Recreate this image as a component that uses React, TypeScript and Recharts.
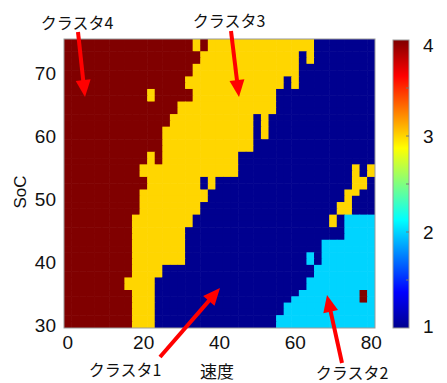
import { ScatterChart, Scatter, XAxis, YAxis } from 'recharts';

// speed (x) of each column, SoC (y) of each row
const SPEED = [0, 2, 4, 6, 8, 10, 12, 14, 16, 18, 20, 22, 24, 26, 28, 30, 32, 34, 36, 38, 40,
  42, 44, 46, 48, 50, 52, 54, 56, 58, 60, 62, 64, 66, 68, 70, 72, 74, 76, 78, 80];
const SOC = [75, 74, 73, 72, 71, 70, 69, 68, 67, 66, 65, 64, 63, 62, 61, 60, 59, 58, 57, 56, 55,
  54, 53, 52, 51, 50, 49, 48, 47, 46, 45, 44, 43, 42, 41, 40, 39, 38, 37, 36, 35, 34, 33, 32, 31, 30];

// cluster id per cell, one string per SoC row (top = 75), groups of 10 columns
const CLUSTER_ROWS = [
  '4444444444 4444444343 3333333333 3331111111 1',
  '4444444444 4444444343 3333333333 3331111111 1',
  '4444444444 4444444433 3333333333 3131111111 1',
  '4444444444 4444444433 3333333333 3131111111 1',
  '4444444444 4444444333 3333333333 3111111111 1',
  '4444444444 4444444333 3333333333 3111111111 1',
  '4444444444 4444443333 3333333331 3111111111 1',
  '4444444444 4444443333 3333333331 3111111111 1',
  '4444444444 4344444333 3333333311 1111111111 1',
  '4444444444 4344444333 3333333311 1111111111 1',
  '4444444444 4444433333 3333333311 1111111111 1',
  '4444444444 4444433333 3333333311 1111111111 1',
  '4444444444 4444333333 3333313111 1111111111 1',
  '4444444444 4444333333 3333313111 1111111111 1',
  '4444444444 4443333333 3333313111 1111111111 1',
  '4444444444 4443333333 3333313111 1111111111 1',
  '4444444444 4443333333 3333311111 1111111111 1',
  '4444444444 4443333333 3333311111 1111111111 1',
  '4444444444 4343333333 3331111111 1111111111 1',
  '4444444444 4343333333 3331111111 1111111111 1',
  '4444444444 3333333333 3331111111 1111111131 3',
  '4444444444 3333333333 3331111111 1111111131 3',
  '4444444444 4333333313 1111111111 1111111133 1',
  '4444444444 4333333313 1111111111 1111111133 1',
  '4444444444 3333333331 1111111111 1111111331 1',
  '4444444444 3333333331 1111111111 1111111311 1',
  '4444444444 3333333311 1111111111 1111113311 1',
  '4444444444 3333333311 1111111111 1111113311 1',
  '4444444443 3333333111 1111111111 1111131222 2',
  '4444444443 3333333111 1111111111 1111131222 2',
  '4444444443 3333331111 1111111111 1111111222 2',
  '4444444443 3333331111 1111111111 1111111222 2',
  '4444444443 3333331111 1111111111 1111222222 2',
  '4444444443 3333331111 1111111111 1111222222 2',
  '4444444443 3333331111 1111111111 1121222222 2',
  '4444444443 3333331111 1111111111 1121222222 2',
  '4444444443 3331111111 1111111111 1112222222 2',
  '4444444443 3331111111 1111111111 1112222222 2',
  '4444444433 3311111111 1111111111 1122222222 2',
  '4444444433 3311111111 1111111111 1122222222 2',
  '4444444443 3311111111 1111111111 1222222224 2',
  '4444444443 3311111111 1111111111 2222222224 2',
  '4444444443 3311111111 1111111112 2222222222 2',
  '4444444443 3311111111 1111111112 2222222222 2',
  '4444444443 3311111111 1111111122 2222222222 2',
  '4444444443 3311111111 1111111122 2222222222 2',
];

const X_TICKS = [0, 20, 40, 60, 80];
const Y_TICKS = [30, 40, 50, 60, 70];
const BAR_TICKS = [1, 2, 3, 4];

const CLUSTER_COLORS: Record<number, string> = {
  1: '#00008f',
  2: '#00d4ff',
  3: '#ffd600',
  4: '#800000',
};

const W = 447;
const H = 383;
const PLOT = { left: 64, top: 39, width: 311, height: 289 };
const X_DOMAIN = [-1, 81];
const Y_DOMAIN = [29.5, 75.5];
const CELL_W = (PLOT.width / (X_DOMAIN[1] - X_DOMAIN[0])) * 2;
const CELL_H = PLOT.height / (Y_DOMAIN[1] - Y_DOMAIN[0]);

const NUM_FONT = '"Liberation Sans", Arial, sans-serif';
const JP_FONT = '"Noto Sans CJK JP", "Noto Sans", sans-serif';

const cells = SOC.flatMap((soc, r) =>
  CLUSTER_ROWS[r]
    .replace(/ /g, '')
    .split('')
    .map((c, i) => ({ speed: SPEED[i], soc, cluster: Number(c) }))
);

const CellRect = (props: any) => {
  const { cx, cy, payload } = props;
  if (cx == null || cy == null) return null;
  return (
    <rect
      x={cx - CELL_W / 2 - 0.3}
      y={cy - CELL_H / 2 - 0.3}
      width={CELL_W + 0.6}
      height={CELL_H + 0.6}
      fill={CLUSTER_COLORS[payload.cluster]}
    />
  );
};

// annotation arrows: tail -> tip (page pixels)
const ARROWS = [
  { x1: 78, y1: 32, x2: 85, y2: 97 },
  { x1: 231, y1: 31, x2: 239, y2: 97 },
  { x1: 160, y1: 357, x2: 220, y2: 288 },
  { x1: 342, y1: 363, x2: 327, y2: 295 },
];

const LABELS = [
  { text: 'クラスタ4', x: 77, y: 22 },
  { text: 'クラスタ3', x: 229, y: 20 },
  { text: 'クラスタ1', x: 125, y: 369 },
  { text: 'クラスタ2', x: 352, y: 372 },
];

function Arrow({ x1, y1, x2, y2 }: { x1: number; y1: number; x2: number; y2: number }) {
  const dx = x2 - x1;
  const dy = y2 - y1;
  const len = Math.hypot(dx, dy);
  const ux = dx / len;
  const uy = dy / len;
  const headL = 17;
  const headW = 7.5;
  const bx = x2 - ux * headL;
  const by = y2 - uy * headL;
  const pts = [
    `${x2},${y2}`,
    `${bx - uy * headW},${by + ux * headW}`,
    `${bx + uy * headW},${by - ux * headW}`,
  ].join(' ');
  return (
    <g>
      <line x1={x1} y1={y1} x2={bx + ux} y2={by + uy} stroke="#f00" strokeWidth={4} />
      <polygon points={pts} fill="#f00" />
    </g>
  );
}

// colorbar geometry
const BAR = { x: 393, y: 40, w: 16, h: 288 };
const barY = (v: number) => BAR.y + BAR.h - ((v - 1) / 3) * BAR.h;

export default function App() {
  return (
    <div style={{ position: 'absolute', left: 0, top: 0, width: W, height: H, background: '#fff' }}>
      <ScatterChart
        width={W}
        height={H}
        margin={{ top: PLOT.top, right: W - PLOT.left - PLOT.width, bottom: H - PLOT.top - PLOT.height - 30, left: PLOT.left - 50 }}
      >
        <XAxis
          type="number"
          dataKey="speed"
          domain={X_DOMAIN}
          ticks={X_TICKS}
          allowDataOverflow
          axisLine={false}
          tickLine={false}
          tickSize={6}
          height={30}
          tick={{ fontSize: 19, fill: '#111', fontFamily: NUM_FONT }}
        />
        <YAxis
          type="number"
          dataKey="soc"
          domain={Y_DOMAIN}
          ticks={Y_TICKS}
          allowDataOverflow
          axisLine={false}
          tickLine={false}
          tickSize={6}
          width={50}
          tick={{ fontSize: 19, fill: '#111', fontFamily: NUM_FONT }}
        />
        <Scatter data={cells} shape={CellRect} isAnimationActive={false} />
      </ScatterChart>

      <svg
        width={W}
        height={H}
        style={{ position: 'absolute', left: 0, top: 0, pointerEvents: 'none' }}
      >
        <rect x={PLOT.left} y={PLOT.top} width={PLOT.width} height={PLOT.height} fill="none" stroke="#9a9a9a" strokeWidth={1} />

        {/* colorbar */}
        <defs>
          <linearGradient id="jet" x1="0" y1="0" x2="0" y2="1">
            <stop offset="0%" stopColor="#800000" />
            <stop offset="12.5%" stopColor="#ff0000" />
            <stop offset="37.5%" stopColor="#ffff00" />
            <stop offset="62.5%" stopColor="#00ffff" />
            <stop offset="87.5%" stopColor="#0000ff" />
            <stop offset="100%" stopColor="#00008f" />
          </linearGradient>
        </defs>
        <rect x={BAR.x} y={BAR.y} width={BAR.w} height={BAR.h} fill="url(#jet)" stroke="#9a9a9a" strokeWidth={1} />
        {[1.5, 2, 2.5, 3, 3.5].map((v) => (
          <line key={v} x1={BAR.x + BAR.w - 3} x2={BAR.x + BAR.w} y1={barY(v)} y2={barY(v)} stroke="#777" strokeWidth={1} />
        ))}
        {BAR_TICKS.map((v) => (
          <text
            key={v}
            x={423}
            y={Math.min(Math.max(barY(v), 45), 326)}
            dominantBaseline="central"
            fontSize={19}
            fontFamily={NUM_FONT}
            fill="#111"
          >
            {v}
          </text>
        ))}

        {/* axis titles */}
        <text x={217} y={370} textAnchor="middle" dominantBaseline="central" fontSize={17} fontFamily={JP_FONT} fill="#111">
          速度
        </text>
        <text
          x={20}
          y={192}
          textAnchor="middle"
          dominantBaseline="central"
          fontSize={17}
          fontFamily={NUM_FONT}
          fill="#111"
          transform="rotate(-90 20 192)"
        >
          SoC
        </text>

        {ARROWS.map((a, i) => (
          <Arrow key={i} {...a} />
        ))}
        {LABELS.map((l) => (
          <text key={l.text} x={l.x} y={l.y} textAnchor="middle" dominantBaseline="central" fontSize={16} fontFamily={JP_FONT} fill="#111">
            {l.text}
          </text>
        ))}
      </svg>
    </div>
  );
}
